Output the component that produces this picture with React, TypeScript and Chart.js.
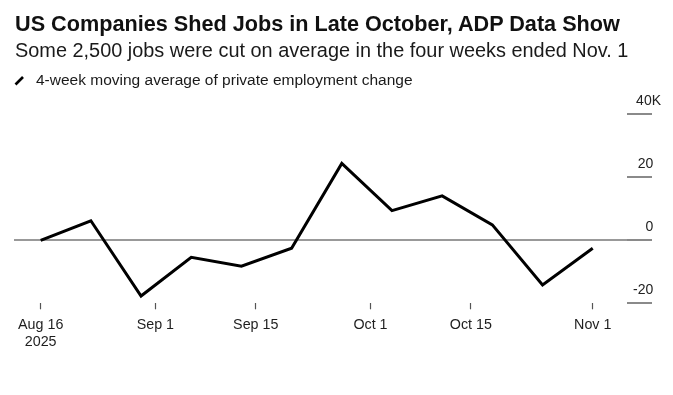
import React, { useEffect, useRef } from "react";
import { Chart, registerables } from "chart.js";

Chart.register(...registerables);

// Weekly observations (days since Aug 16, 2025)
const weekDays = [0, 7, 14, 21, 28, 35, 42, 49, 56, 63, 70, 77];
// 4-week moving average of private employment change (thousands)
const employmentChange = [0, 6.2, -17.7, -5.4, -8.2, -2.5, 24.4, 9.4, 14.1, 4.9, -14.2, -2.5];

const xTickDays = [0, 16, 30, 46, 60, 77];
const xTickLabels: (string | string[])[] = [["Aug 16", "2025"], "Sep 1", "Sep 15", "Oct 1", "Oct 15", "Nov 1"];
const yTickValues = [-20, 0, 20, 40];
// figure space keeps the numbers aligned while "K" hangs to the right
const yTickLabels = ["-20\u2007", "0\u2007", "20\u2007", "40K"];

const FONT = "'Liberation Sans', Arial, Helvetica, sans-serif";

export default function App() {
  const ref = useRef<HTMLCanvasElement | null>(null);

  useEffect(() => {
    if (!ref.current) return;
    const chart = new Chart(ref.current, {
      type: "line",
      data: {
        datasets: [
          {
            label: "4-week moving average of private employment change",
            data: weekDays.map((d, i) => ({ x: d, y: employmentChange[i] })),
            borderColor: "#000000",
            borderWidth: 3,
            borderJoinStyle: "miter",
            pointRadius: 0,
            tension: 0,
            fill: false,
          },
        ],
      },
      options: {
        animation: false,
        responsive: false,
        maintainAspectRatio: false,
        layout: { padding: { left: 14, right: 21, top: 114.3, bottom: 0 } },
        plugins: {
          legend: { display: false },
          title: { display: false },
          tooltip: { enabled: false },
        },
        scales: {
          x: {
            type: "linear",
            min: -3.72,
            max: 81.78,
            afterFit: (s: any) => {
              s.height = 395 - 303.3;
            },
            afterBuildTicks: (s: any) => {
              s.ticks = xTickDays.map((v) => ({ value: v }));
            },
            border: { display: false },
            grid: {
              drawOnChartArea: false,
              drawTicks: true,
              tickLength: 6,
              tickColor: "#555555",
              tickWidth: 1.2,
            },
            ticks: {
              autoSkip: false,
              maxRotation: 0,
              padding: 7,
              color: "#1e1e1e",
              font: { family: FONT, size: 14.3, lineHeight: 1.21 },
              callback: (_v: any, i: number) => xTickLabels[i],
            },
          },
          y: {
            type: "linear",
            position: "right",
            min: -20,
            max: 40,
            afterFit: (s: any) => {
              s.width = 25;
            },
            afterBuildTicks: (s: any) => {
              s.ticks = yTickValues.map((v) => ({ value: v }));
            },
            border: { display: false },
            grid: {
              drawOnChartArea: true,
              drawTicks: true,
              tickLength: 25,
              color: (ctx: any) => (ctx.tick && ctx.tick.value === 0 ? "#999999" : "rgba(0,0,0,0)"),
              lineWidth: 2,
              tickColor: "#8a8a8a",
              tickWidth: 2,
            },
            ticks: {
              mirror: true,
              padding: 34,
              labelOffset: -13.5,
              color: "#222222",
              font: { family: FONT, size: 14 },
              callback: (_v: any, i: number) => yTickLabels[i],
            },
          },
        },
      },
    });
    return () => chart.destroy();
  }, []);

  return (
    <div
      style={{
        position: "fixed",
        left: 0,
        top: 0,
        width: 673,
        height: 395,
        background: "#ffffff",
        fontFamily: FONT,
        color: "#111111",
      }}
    >
      <canvas ref={ref} width={673} height={395} style={{ position: "absolute", left: 0, top: 0, width: 673, height: 395 }} />
      <div
        style={{
          position: "absolute",
          left: 15,
          top: 12.5,
          fontSize: 21.65,
          lineHeight: 1,
          fontWeight: 700,
          whiteSpace: "nowrap",
          color: "#111111",
        }}
      >
        US Companies Shed Jobs in Late October, ADP Data Show
      </div>
      <div
        style={{
          position: "absolute",
          left: 15,
          top: 41.4,
          fontSize: 19.9,
          lineHeight: 1,
          whiteSpace: "nowrap",
          color: "#1a1a1a",
        }}
      >
        Some 2,500 jobs were cut on average in the four weeks ended Nov. 1
      </div>
      <svg width="26" height="16" style={{ position: "absolute", left: 12, top: 73 }}>
        <line x1="3.5" y1="11.5" x2="11" y2="4" stroke="#000" strokeWidth="2.6" />
      </svg>
      <div
        style={{
          position: "absolute",
          left: 36,
          top: 72,
          fontSize: 15.5,
          lineHeight: 1,
          whiteSpace: "nowrap",
          color: "#1a1a1a",
        }}
      >
        4-week moving average of private employment change
      </div>
    </div>
  );
}
